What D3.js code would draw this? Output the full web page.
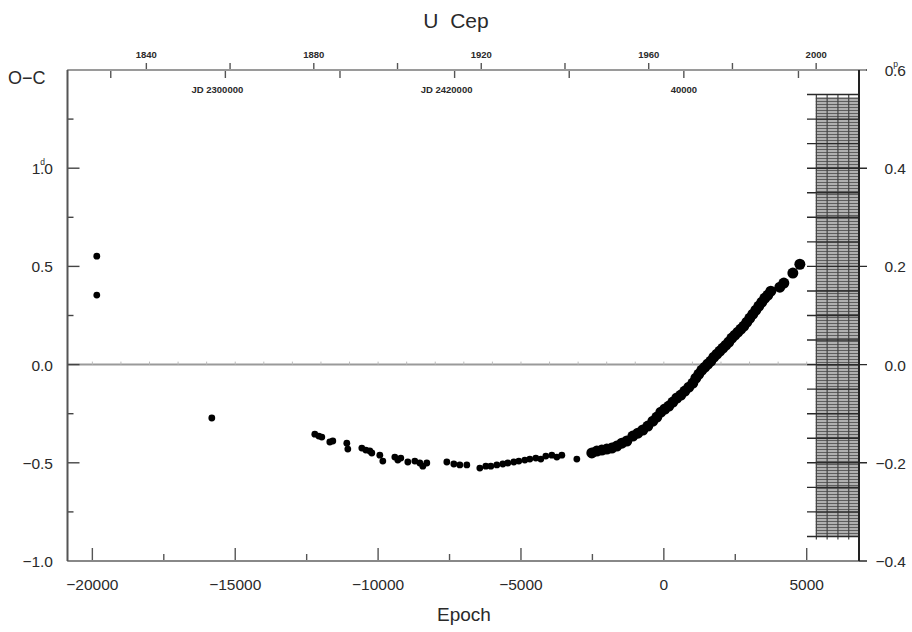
<!DOCTYPE html>
<html>
<head>
<meta charset="utf-8">
<script src="https://d3js.org/d3.v7.min.js"></script>
<style>
body { margin: 0; background: #fff; }
svg { display: block; font-family: "Liberation Sans", Arial, sans-serif; }
</style>
</head>
<body>
<svg id="main" width="912" height="632"></svg>
<script>
// O-C data, epoch / days
var epochs = [-19845, -19845, -15820,
	-12215, -12075, -11970, -11690, -11585, -11095, -11060, -10570, -10430, -10290, -10220,
	-9940, -9835, -9415, -9310, -9205, -8960, -8715, -8540, -8435, -8295, -7595, -7350,
	-7140, -6895, -6440, -6230, -6055, -5845, -5635, -5460, -5250, -5075, -4865, -4690,
	-4480, -4305, -4130, -3920, -3745, -3570, -3045,
	-2520, -2345, -2170, -1995, -1820, -1645, -1470, -1295, -1085, -910, -735, -560, -385,
	-245, -105, 35, 175, 315, 455, 595, 735, 875, 1015, 1120, 1225, 1330, 1435, 1540, 1645,
	1750, 1855, 1960, 2065, 2170, 2275, 2380, 2485, 2590, 2695, 2800, 2905, 3010, 3115,
	3220, 3325, 3430, 3535, 3640, 3745, 4060, 4200, 4515, 4760];
var oc = [0.552, 0.354, -0.272,
	-0.354, -0.364, -0.369, -0.394, -0.389, -0.400, -0.430, -0.425, -0.435, -0.440, -0.450,
	-0.461, -0.491, -0.471, -0.486, -0.476, -0.496, -0.491, -0.501, -0.517, -0.501, -0.496, -0.506,
	-0.511, -0.511, -0.527, -0.517, -0.517, -0.511, -0.506, -0.501, -0.496, -0.491, -0.486, -0.481,
	-0.476, -0.481, -0.466, -0.461, -0.471, -0.461, -0.481,
	-0.450, -0.440, -0.435, -0.430, -0.425, -0.415, -0.400, -0.389, -0.364, -0.349, -0.333, -0.313, -0.288,
	-0.267, -0.242, -0.226, -0.211, -0.191, -0.170, -0.155, -0.135, -0.115, -0.094, -0.069, -0.048, -0.028, -0.013, 0.003, 0.018,
	0.038, 0.053, 0.069, 0.084, 0.099, 0.115, 0.135, 0.150, 0.165, 0.181, 0.196, 0.216, 0.237, 0.257,
	0.277, 0.298, 0.318, 0.338, 0.354, 0.374, 0.394, 0.415, 0.466, 0.511];
var nVisual = 45; // the first points are the small visual ones

var epochTicks = [-20000, -15000, -10000, -5000, 0, 5000];
var leftTicks = [-1.0, -0.5, 0.0, 0.5, 1.0];
var rightTicks = [-0.4, -0.2, 0.0, 0.2, 0.4, 0.6];
var yearTicks = [1840, 1860, 1880, 1900, 1920, 1940, 1960, 1980, 2000];
var yearLabels = [1840, 1880, 1920, 1960, 2000];
var jdTicks = [2390000, 2400000, 2410000, 2420000, 2430000, 2440000, 2450000];
var jdLabels = {2400000: "JD 2300000", 2420000: "JD 2420000", 2440000: "40000"};
var hatchEpoch = [5320, 6830];
var hatchPhase = [-0.35, 0.545];

var period = 2.493;
var t0 = 2438255;

window.onload = function() {
var svg = d3.select("#main");
var left = 67.5, right = 859, top = 70, bottom = 561;

var x = d3.scaleLinear().domain([-20870, 6830]).range([left, right]);
var y = d3.scaleLinear().domain([-1, 1.5]).range([bottom, top]);
var y2 = d3.scaleLinear().domain([-0.4, 0.6]).range([bottom, top]);

var jdToEpoch = function(jd) { return (jd - t0) / period; };
var yearToJd = function(yr) { return 2451545 + (yr - 2000) * 365.25; };
var jdX = function(jd) { return x(jdToEpoch(jd)); };
var yrX = function(yr) { return x(jdToEpoch(yearToJd(yr))); };

var ink = "#2a2a2a";

// zero line
svg.append("line")
	.attr("x1", left).attr("x2", x(hatchEpoch[0]))
	.attr("y1", y(0)).attr("y2", y(0))
	.attr("stroke", "#9a9a9a").attr("stroke-width", 2);

// hatched block at the right
var hx0 = x(hatchEpoch[0]), hx1 = x(hatchEpoch[1]);
var hy0 = y2(hatchPhase[1]), hy1 = y2(hatchPhase[0]);
var hatch = svg.append("g");
hatch.append("rect")
	.attr("x", hx0).attr("y", hy0).attr("width", hx1 - hx0).attr("height", hy1 - hy0)
	.attr("fill", "#b0b0b0");
for (var hy = hy0 + 1.5; hy < hy1; hy += 3) {
	hatch.append("line").attr("x1", hx0).attr("x2", hx1).attr("y1", hy).attr("y2", hy)
		.attr("stroke", "#5e5e5e").attr("stroke-width", 1);
}
for (var k = 0; k < 4; k++) {
	var vx = hx0 + 0.5 + k * (hx1 - hx0) / 4;
	hatch.append("line").attr("x1", vx).attr("x2", vx).attr("y1", hy0 - 3).attr("y2", hy1 + 3)
		.attr("stroke", "#444").attr("stroke-width", 1.2);
}

// right axis ticks, inward and outward
d3.range(-0.4, 0.6001, 0.05).forEach(function(v) {
	var major = Math.abs(Math.round(v * 10) - v * 10) < 1e-6 && Math.round(v * 10) % 2 == 0;
	svg.append("line")
		.attr("x1", right - 52).attr("x2", right + (major ? 8 : 0))
		.attr("y1", y2(v)).attr("y2", y2(v))
		.attr("stroke", "#2a2a2a").attr("stroke-width", 1.4);
});

// left axis ticks
d3.range(-1, 1.5001, 0.25).forEach(function(v) {
	var major = Math.abs(v * 2 - Math.round(v * 2)) < 1e-6;
	svg.append("line")
		.attr("x1", left).attr("x2", left + (major ? 12 : 6))
		.attr("y1", y(v)).attr("y2", y(v))
		.attr("stroke", "#444").attr("stroke-width", 1.4);
});

// bottom axis ticks
d3.range(-20000, 6001, 2500).forEach(function(v) {
	var major = v % 5000 == 0;
	svg.append("line")
		.attr("x1", x(v)).attr("x2", x(v))
		.attr("y1", bottom).attr("y2", bottom - (major ? 13 : 7))
		.attr("stroke", "#555").attr("stroke-width", 1.4);
});

// faint ticks on the zero line
d3.range(-20000, 5001, 1000).forEach(function(v) {
	svg.append("line")
		.attr("x1", x(v)).attr("x2", x(v))
		.attr("y1", y(0)).attr("y2", y(0) - 3)
		.attr("stroke", "#bbb").attr("stroke-width", 1);
});

// top axes: years above, JD below
var topG = svg.append("g");
yearTicks.forEach(function(yr) {
	topG.append("line").attr("x1", yrX(yr)).attr("x2", yrX(yr))
		.attr("y1", top).attr("y2", top - 7)
		.attr("stroke", "#555").attr("stroke-width", 1.4);
});
yearLabels.forEach(function(yr) {
	topG.append("text").attr("x", yrX(yr)).attr("y", top - 12)
		.attr("text-anchor", "middle").attr("font-size", 9.5).attr("font-weight", "bold")
		.attr("fill", ink).text(yr);
});
jdTicks.forEach(function(jd) {
	topG.append("line").attr("x1", jdX(jd)).attr("x2", jdX(jd))
		.attr("y1", top).attr("y2", top + 8)
		.attr("stroke", "#555").attr("stroke-width", 1.4);
	if (jdLabels[jd]) {
		topG.append("text").attr("x", jdX(jd) - (jdLabels[jd].length > 6 ? 8 : 0)).attr("y", top + 23)
			.attr("text-anchor", "middle").attr("font-size", 9.5).attr("font-weight", "bold")
			.attr("fill", ink).text(jdLabels[jd]);
	}
});

// frame
svg.append("line").attr("x1", left).attr("x2", right + 7).attr("y1", top).attr("y2", top)
	.attr("stroke", "#9a9a9a").attr("stroke-width", 2);
svg.append("line").attr("x1", left).attr("x2", right).attr("y1", bottom).attr("y2", bottom)
	.attr("stroke", "#888").attr("stroke-width", 2);
svg.append("line").attr("x1", left).attr("x2", left).attr("y1", top).attr("y2", bottom)
	.attr("stroke", "#555").attr("stroke-width", 2);
svg.append("line").attr("x1", right).attr("x2", right).attr("y1", top).attr("y2", bottom)
	.attr("stroke", "#222").attr("stroke-width", 2);

// points
svg.append("g").selectAll("circle")
	.data(epochs)
	.enter().append("circle")
	.attr("cx", function(d) { return x(d); })
	.attr("cy", function(d, i) { return y(oc[i]); })
	.attr("r", function(d, i) { return i < nVisual ? 3.4 : 5.5; })
	.attr("fill", "#000");

// tick labels
epochTicks.forEach(function(v) {
	svg.append("text").attr("x", x(v)).attr("y", 590)
		.attr("text-anchor", "middle").attr("font-size", 15.5).attr("fill", ink)
		.text(v < 0 ? "\u2212" + (-v) : v);
});
var numLabel = function(g, xx, yy, v, unit) {
	var s = (v < 0 ? "\u2212" : "") + Math.abs(v).toFixed(1);
	var t = g.append("text").attr("x", xx).attr("y", yy)
		.attr("text-anchor", "end").attr("font-size", 15.5).attr("fill", ink);
	if (!unit) { t.text(s); return; }
	// unit letter sits above the decimal point
	var parts = s.split(".");
	t.append("tspan").text(parts[0]);
	t.append("tspan").attr("font-size", 8.5).attr("dy", -9).attr("dx", 0).text(unit);
	t.append("tspan").attr("dy", 9).attr("dx", -5).text("." + parts[1]);
};
leftTicks.forEach(function(v) {
	numLabel(svg, 53, y(v) + 6, v, v == 1 ? "d" : null);
});
rightTicks.forEach(function(v) {
	numLabel(svg, 906, y2(v) + 6, v, v == 0.6 ? "p" : null);
});

// titles
svg.append("text").attr("x", 456).attr("y", 28).attr("text-anchor", "middle")
	.attr("font-size", 21).attr("fill", ink).attr("xml:space", "preserve").text("U  Cep");
svg.append("text").attr("x", 8).attr("y", 84)
	.attr("font-size", 18).attr("fill", ink).text("O\u2212C");
svg.append("text").attr("x", 464).attr("y", 621).attr("text-anchor", "middle")
	.attr("font-size", 19).attr("fill", ink).text("Epoch");
}
</script>
</body>
</html>
